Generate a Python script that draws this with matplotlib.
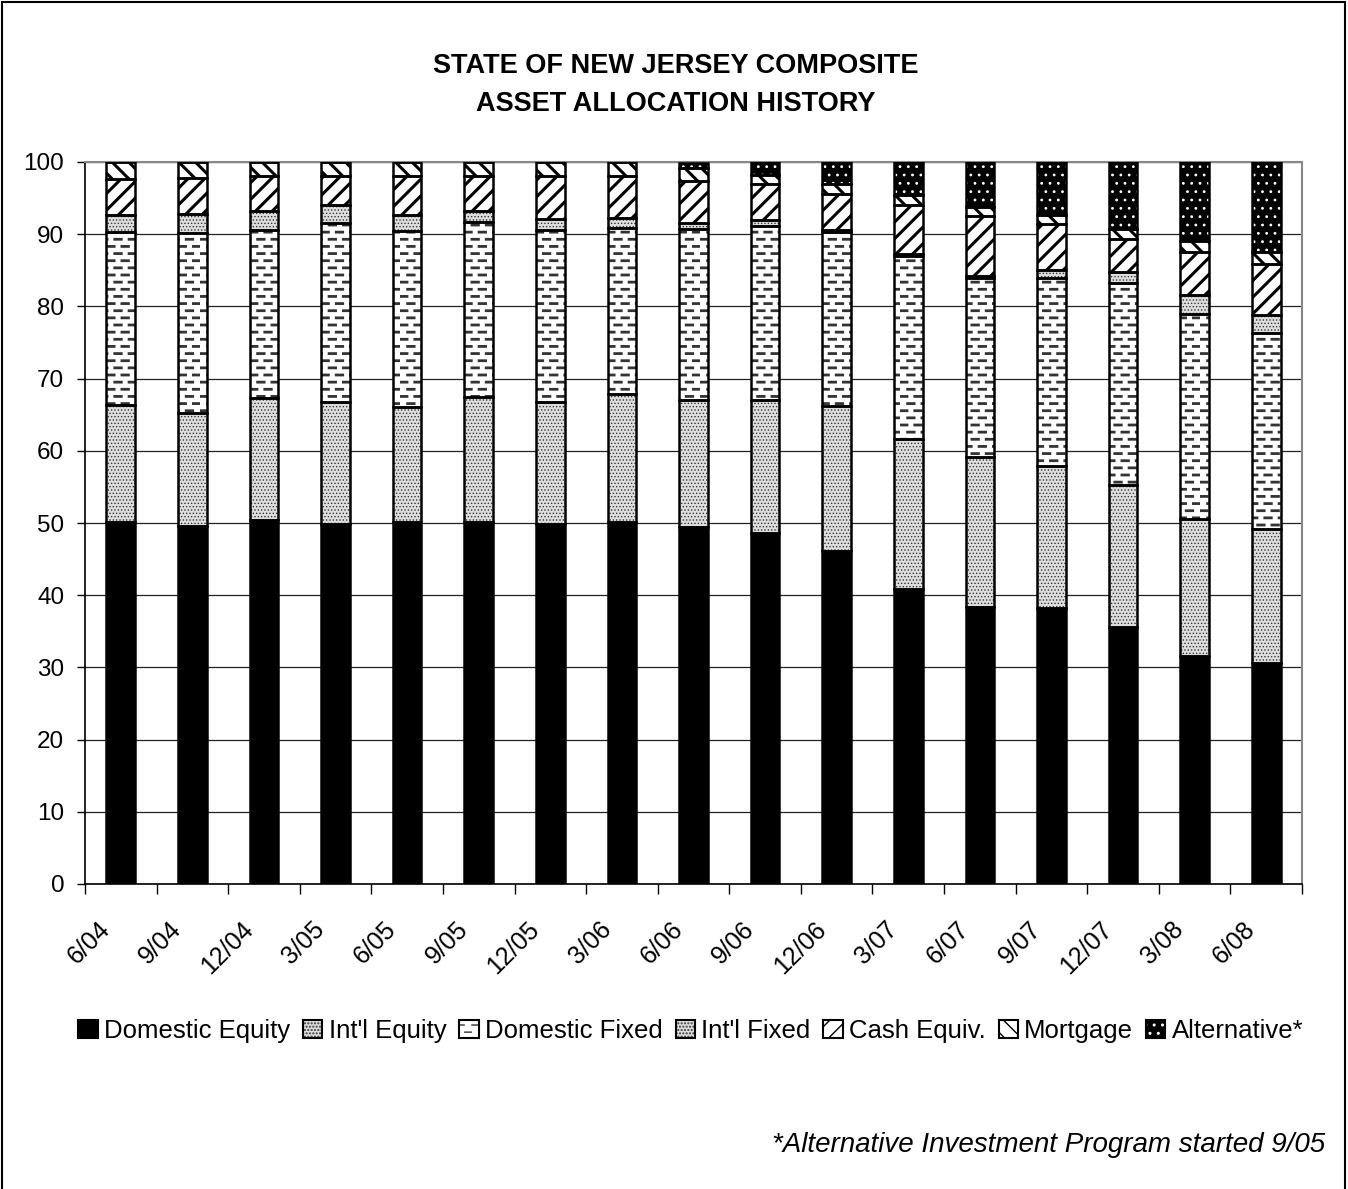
import numpy as np
import matplotlib
matplotlib.use("Agg")
import matplotlib.pyplot as plt
import matplotlib.patches as mpatches
import matplotlib.hatch as mhatch
from matplotlib.path import Path
from matplotlib.transforms import ScaledTranslation
from matplotlib.legend_handler import HandlerTuple
from matplotlib import font_manager as fm

# ---------------- data ----------------
dates = ['6/04', '9/04', '12/04', '3/05', '6/05', '9/05', '12/05', '3/06', '6/06',
         '9/06', '12/06', '3/07', '6/07', '9/07', '12/07', '3/08', '6/08']
dom_equity = [50.1, 49.6, 50.4, 49.9, 50.1, 50.2, 49.9, 50.2, 49.5,
              48.6, 46.1, 40.9, 38.3, 38.2, 35.6, 31.6, 30.6]
intl_equity = [16.2, 15.7, 16.9, 16.8, 15.9, 17.3, 16.8, 17.7, 17.6,
               18.5, 20.1, 20.8, 20.8, 19.7, 19.7, 19.0, 18.6]
dom_fixed = [24.0, 24.8, 23.3, 24.8, 24.4, 24.2, 23.9, 23.0, 23.6,
             24.0, 24.1, 25.3, 24.9, 26.0, 27.9, 28.3, 27.1]
intl_fixed = [2.4, 2.7, 2.6, 2.5, 2.2, 1.5, 1.5, 1.3, 0.8,
              0.8, 0.3, 0.3, 0.2, 1.1, 1.6, 2.7, 2.5]
cash_equiv = [4.9, 5.0, 4.8, 4.1, 5.5, 4.8, 6.0, 5.9, 5.9,
              5.0, 5.0, 6.7, 8.3, 6.4, 4.5, 6.0, 7.1]
mortgage = [2.4, 2.2, 2.0, 1.9, 1.9, 2.0, 1.9, 1.9, 1.7,
            1.3, 1.3, 1.4, 1.2, 1.3, 1.4, 1.5, 1.7]
alternative = [0, 0, 0, 0, 0, 0, 0, 0, 0.8,
               1.8, 3.1, 4.6, 6.3, 7.3, 9.3, 10.9, 12.4]

series_names = ['Domestic Equity', "Int'l Equity", 'Domestic Fixed', "Int'l Fixed",
                'Cash Equiv.', 'Mortgage', 'Alternative*']
yticks = [0, 10, 20, 30, 40, 50, 60, 70, 80, 90, 100]


# ---------------- custom dash hatch (uses '+') ----------------
class DashHatch(mhatch.HatchPatternBase):
    def __init__(self, hatch, density):
        c = hatch.count('+')
        self.rows = 14 * c
        self.cols = 7
        self.num_vertices = self.rows * self.cols * 2

    def set_vertices_and_codes(self, vertices, codes):
        pts = []
        L = 0.065
        for r in range(self.rows):
            y = (r + 0.5) / self.rows
            off = 0.5 / self.cols if r % 2 else 0.0
            for c in range(self.cols):
                x0 = c / self.cols + off + 0.005
                pts.append((x0, y))
                pts.append((x0 + L, y))
        vertices[:] = np.array(pts)
        codes[0::2] = Path.MOVETO
        codes[1::2] = Path.LINETO


mhatch._hatch_types = [DashHatch, mhatch.NorthEastHatch, mhatch.SouthEastHatch,
                       mhatch.SmallCircles, mhatch.LargeCircles,
                       mhatch.SmallFilledCircles, mhatch.Stars]

# ---------------- fonts ----------------
names = {f.name for f in fm.fontManager.ttflist}
narrow = 'Liberation Sans Narrow' if 'Liberation Sans Narrow' in names else 'Liberation Sans'
base = 'Liberation Sans'
plt.rcParams['font.family'] = [base, 'DejaVu Sans']

W, H = 1348, 1189
fig = plt.figure(figsize=(W / 100, H / 100), dpi=100)
ax = fig.add_axes([85 / W, 1 - 884 / H, (1302 - 85) / W, (884 - 162) / H])

x = np.arange(len(dates))
width = 0.4

styles = [
    # face, hatch colour, hatch, hatch linewidth
    ('black', 'black', '', 1.0),
    ('#dedede', '#333333', '.....', 0.6),
    ('white', '#333333', '+', 2.0),
    ('#dedede', '#333333', '.....', 0.6),
    ('white', 'black', '//', 2.2),
    ('white', 'black', '\\\\', 2.2),
    ('black', 'white', '..', 0.8),
]
data = [dom_equity, intl_equity, dom_fixed, intl_fixed, cash_equiv, mortgage, alternative]

handles = []
bottom = np.zeros(len(dates))
for vals, (face, hcol, hatch, hlw), name in zip(data, styles, series_names):
    vals = np.array(vals, dtype=float)
    with plt.rc_context({'hatch.linewidth': hlw, 'hatch.color': hcol}):
        bars = ax.bar(x, vals, width, bottom=bottom, color=face, edgecolor=hcol,
                      hatch=hatch, linewidth=0, zorder=2)
        for b in bars:
            if hasattr(b, 'set_hatch_linewidth'):
                b.set_hatch_linewidth(hlw)
        ph = mpatches.Patch(facecolor=face, edgecolor=hcol, hatch=hatch, linewidth=0)
        if hasattr(ph, 'set_hatch_linewidth'):
            ph.set_hatch_linewidth(hlw)
    ax.bar(x, vals, width, bottom=bottom, fill=False, edgecolor='black',
           linewidth=1.8, zorder=3)
    po = mpatches.Patch(fill=False, edgecolor='black', linewidth=1.5)
    handles.append((ph, po))
    bottom = bottom + vals

# ---------------- axes styling ----------------
ax.set_xlim(-0.5, len(dates) - 0.5)
ax.set_ylim(0, 100)
ax.set_yticks(yticks)
ax.set_axisbelow(True)
ax.yaxis.grid(True, color='#222222', linewidth=0.9, zorder=0)
ax.spines['left'].set_color('black')
ax.spines['bottom'].set_color('black')
ax.spines['left'].set_linewidth(1.2)
ax.spines['bottom'].set_linewidth(1.2)
for s in ('top', 'right'):
    ax.spines[s].set_color('#888888')
    ax.spines[s].set_linewidth(1.5)

ax.tick_params(axis='y', direction='out', length=6, width=1, labelsize=17.5, pad=9)
ax.set_xticks(x)
ax.set_xticklabels(dates, rotation=45, ha='right', rotation_mode='anchor', fontsize=18)
ax.tick_params(axis='x', which='major', length=0, pad=24)
ax.set_xticks(np.arange(len(dates) + 1) - 0.5, minor=True)
ax.tick_params(axis='x', which='minor', length=7, width=1, direction='out')
for lab in ax.get_xticklabels():
    lab.set_transform(lab.get_transform() + ScaledTranslation(-0.23, 0, fig.dpi_scale_trans))

# ---------------- titles ----------------
fig.text(676 / W, 1 - 66 / H, 'STATE OF NEW JERSEY COMPOSITE', ha='center', va='center',
         fontsize=19.5, fontweight='bold', family=[narrow, 'DejaVu Sans'])
fig.text(676 / W, 1 - 104 / H, 'ASSET ALLOCATION HISTORY', ha='center', va='center',
         fontsize=19.5, fontweight='bold', family=[narrow, 'DejaVu Sans'])

fig.legend(handles, series_names, handler_map={tuple: HandlerTuple(ndivide=1)},
           loc='center', bbox_to_anchor=(691 / W, 1 - 1031 / H), ncol=7, frameon=False,
           fontsize=18.5, handlelength=0.75, handleheight=0.75, handletextpad=0.25,
           columnspacing=0.5, borderpad=0)

fig.text(1325 / W, 1 - 1145 / H, '*Alternative Investment Program started 9/05',
         ha='right', va='center', fontsize=20, style='italic')

# outer frame
fig.patches.append(mpatches.Rectangle((2 / W, -0.01), (1345 - 2) / W, 1.01 - 2 / H,
                                      transform=fig.transFigure, fill=False,
                                      edgecolor='black', linewidth=1.5))

fig.savefig('out.png', dpi=100)
